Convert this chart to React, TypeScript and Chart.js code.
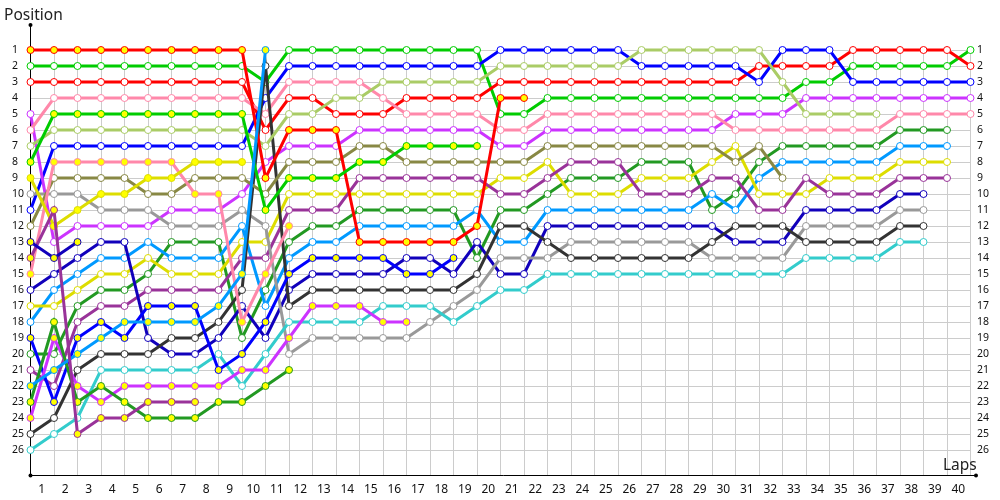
import React, { useEffect, useRef } from "react";
import { Chart, registerables } from "chart.js";

Chart.register(...registerables);

const positionTicks = [1,2,3,4,5,6,7,8,9,10,11,12,13,14,15,16,17,18,19,20,21,22,23,24,25,26];
const lapTicks = [0,1,2,3,4,5,6,7,8,9,10,11,12,13,14,15,16,17,18,19,20,21,22,23,24,25,26,27,28,29,30,31,32,33,34,35,36,37,38,39,40];
const lapLabels = ["1","2","3","4","5","6","7","8","9","10","11","12","13","14","15","16","17","18","19","20","21","22","23","24","25","26","27","28","29","30","31","32","33","34","35","36","37","38","39","40",""];

const redYellow = [1,1,1,1,1,1,1,1,1,1,9,6,6,6,13,13,13,13,13,12,4,4];
const greenWhite = [2,2,2,2,2,2,2,2,2,2,3,1,1,1,1,1,1,1,1,1,5,5,4,4,4,4,4,4,4,4,4,4,4,3,3,2,2,2,2,2,1];
const redWhite = [3,3,3,3,3,3,3,3,3,3,6,4,4,5,5,5,4,4,4,4,3,3,3,3,3,3,3,3,3,3,3,2,2,2,2,1,1,1,1,1,2];
const magentaWhite = [5,13,12,12,12,12,11,11,11,10,8,7,7,7,6,6,6,6,6,6,7,7,6,6,6,6,6,6,6,6,5,5,5,4,4,4,4,4,4,4,4];
const pinkWhite = [6,4,4,4,4,4,4,4,4,4,5,3,3,3,3,4,5,5,5,5,6,6,5,5,5,5,5,5,5,5,6,6,6,6,6,6,6,5,5,5,5];
const limeWhite = [7,6,6,6,6,6,6,6,6,6,7,5,5,4,4,3,3,3,3,3,2,2,2,2,2,2,1,1,1,1,1,1,3,5,5,5,5];
const greenYellow = [8,5,5,5,5,5,5,5,5,5,11,9,9,9,8,8,7,7,7,7];
const yellowYellow = [9,12,11,10,10,9,9,8,8,8];
const grayWhite = [10,10,10,11,11,11,12,12,12,11,12,20,19,19,19,19,19,18,17,16,14,14,14,13,13,13,13,13,13,14,14,14,14,12,12,12,12,11,11];
const blueWhite = [11,7,7,7,7,7,7,7,7,7,4,2,2,2,2,2,2,2,2,2,1,1,1,1,1,1,2,2,2,2,2,3,1,1,1,3,3,3,3,3,3];
const oliveWhite = [12,9,9,9,9,10,10,9,9,9,10,8,8,8,7,7,8,8,8,8,8,8,7,7,7,7,7,7,7,7,8,7,9];
const navyYellow = [13,14,13];
const purpleYellow = [14,11,25,24,24,23,23,23];
const pinkYellow = [15,8,8,8,8,8,8,10,10,18,15,12];
const navyWhite = [16,15,14,13,13,19,20,20,19,17,19,16,15,15,15,15,14,14,15,13,15,15,12,12,12,12,12,12,12,12,13,13,13,11,11,11,11,10,10];
const yellowWhite = [17,17,16,15,15,14,15,15,15,13,13,10,10,10,10,10,10,10,10,10,9,9,8,10,10,10,9,9,9,8,7,10,10,10,9,9,9,8,8,8];
const skyWhite = [18,16,15,14,14,13,14,14,14,12,17,14,13,13,12,12,12,12,12,11,13,13,11,11,11,11,11,11,11,10,11,9,8,8,8,8,8,7,7,7];
const blueYellow = [19,23,19,18,19,17,17,17,21,20,18,15,14,14,14,14,15,15,14];
const forestWhite = [20,20,17,16,16,15,13,13,13,19,16,13,12,12,11,11,11,11,11,14,11,11,10,9,9,9,8,8,8,11,10,8,7,7,7,7,7,6,6,6];
const purpleWhite = [21,22,18,17,17,16,16,16,16,14,14,11,11,11,9,9,9,9,9,9,10,10,9,8,8,8,10,10,10,9,9,11,11,9,10,10,10,9,9,9];
const skyYellow = [22,21,20,19,18,18,18,18,17,15,1];
const forestYellow = [23,18,23,22,23,24,24,24,23,23,22,21];
const magentaYellow = [24,19,22,23,22,22,22,22,22,21,21,19,17,17,17,18,18];
const darkWhite = [25,24,21,20,20,20,19,19,18,16,2,17,16,16,16,16,16,16,16,15,12,12,13,14,14,14,14,14,14,13,12,12,12,13,13,13,13,12,12];
const tealWhite = [26,25,24,21,21,21,21,21,20,22,20,18,18,18,18,17,17,17,18,17,16,16,15,15,15,15,15,15,15,15,15,15,15,14,14,14,14,13,13];

const RED = "#ff0000", GREEN = "#00cc00", BLUE = "#0000ff", NAVY = "#1100bb", PINK = "#ff88aa",
  LIME = "#aacc66", MAGENTA = "#cc33ff", OLIVE = "#888844", GRAY = "#999999", DARK = "#333333",
  TEAL = "#33cccc", SKY = "#0099ff", FOREST = "#229922", PURPLE = "#993399", YELLOW = "#dddd00";

// bottom of the stack first
const series: [number[], string, boolean][] = [
  [greenWhite, GREEN, false],
  [redWhite, RED, false],
  [blueWhite, BLUE, false],
  [magentaWhite, MAGENTA, false],
  [pinkWhite, PINK, false],
  [forestWhite, FOREST, false],
  [skyWhite, SKY, false],
  [yellowWhite, YELLOW, false],
  [purpleWhite, PURPLE, false],
  [navyWhite, NAVY, false],
  [grayWhite, GRAY, false],
  [darkWhite, DARK, false],
  [tealWhite, TEAL, false],
  [limeWhite, LIME, false],
  [oliveWhite, OLIVE, false],
  [redYellow, RED, true],
  [greenYellow, GREEN, true],
  [blueYellow, BLUE, true],
  [magentaYellow, MAGENTA, true],
  [pinkYellow, PINK, true],
  [forestYellow, FOREST, true],
  [skyYellow, SKY, true],
  [yellowYellow, YELLOW, true],
  [purpleYellow, PURPLE, true],
  [navyYellow, NAVY, true],
];

const axisFurniture = {
  id: "axisFurniture",
  beforeDatasetsDraw(chart: any) {
    const { ctx, chartArea: a } = chart;
    ctx.save();
    ctx.strokeStyle = "#000";
    ctx.fillStyle = "#000";
    ctx.lineWidth = 1;
    const l = Math.round(a.left) - 0.5, b = Math.round(a.bottom) - 0.5;
    ctx.beginPath();
    ctx.moveTo(l, 25);
    ctx.lineTo(l, b);
    ctx.lineTo(976, b);
    ctx.stroke();
    for (const [x, y] of [[l, 25], [l, b], [976, b]]) {
      ctx.beginPath();
      ctx.arc(x, y, 2, 0, Math.PI * 2);
      ctx.fill();
    }
    ctx.font = '15.5px "Noto Sans"';
    ctx.fillStyle = "#222";
    ctx.textBaseline = "alphabetic";
    ctx.textAlign = "left";
    ctx.fillText("Position", 4, 20);
    ctx.fillText("Laps", 943, 470);
    ctx.restore();
  },
};

export default function App() {
  const ref = useRef<HTMLCanvasElement>(null);
  useEffect(() => {
    const tickFont = { family: '"Noto Sans"', size: 10.5 };
    const makeY = (position: string, extra: any) => ({
      type: "linear",
      position,
      reverse: true,
      min: 1,
      max: 27.625,
      border: { display: false },
      grid: { color: "#cccccc", drawTicks: false, display: position === "left" },
      afterBuildTicks: (s: any) => { s.ticks = positionTicks.map((value) => ({ value })); },
      ticks: { autoSkip: false, font: tickFont, color: "#111", ...extra },
    });
    const chart = new Chart(ref.current as HTMLCanvasElement, {
      type: "line",
      data: {
        datasets: series.slice().reverse().map(([values, color, yellow]) => ({
          data: values.map((y, x) => ({ x, y })),
          borderColor: color,
          backgroundColor: color,
          borderWidth: 3,
          pointRadius: 3.5,
          pointBorderWidth: 1,
          pointBorderColor: color,
          pointBackgroundColor: yellow ? "#ffff00" : "#ffffff",
          tension: 0,
          clip: false,
        })),
      },
      options: {
        responsive: false,
        animation: false,
        events: [],
        layout: { padding: { left: 12, top: 50, right: 0, bottom: 0 } },
        plugins: { legend: { display: false }, tooltip: { enabled: false } },
        scales: {
          x: {
            type: "linear",
            min: 0,
            max: 40,
            border: { display: false },
            grid: { color: "#cccccc", drawTicks: false },
            afterBuildTicks: (s: any) => { s.ticks = lapTicks.map((value) => ({ value })); },
            afterFit: (s: any) => { s.height = 24; },
            ticks: {
              autoSkip: false,
              maxRotation: 0,
              labelOffset: 11.25,
              padding: 6,
              color: "#111",
              font: { family: '"Noto Sans"', size: 12 },
              callback: (v: any) => lapLabels[v],
            },
          },
          y: { ...makeY("left", { crossAlign: "far", padding: 4 }), afterFit: (s: any) => { s.width = 18.5; } },
          yRight: { ...makeY("right", { crossAlign: "near", padding: 6.5 }), afterFit: (s: any) => { s.width = 29.5; } },
        },
      } as any,
      plugins: [axisFurniture],
    });
    return () => chart.destroy();
  }, []);
  return (
    <div style={{ position: "absolute", left: 0, top: 0, width: 1000, height: 500 }}>
      <canvas ref={ref} width={1000} height={500} style={{ display: "block" }} />
    </div>
  );
}
